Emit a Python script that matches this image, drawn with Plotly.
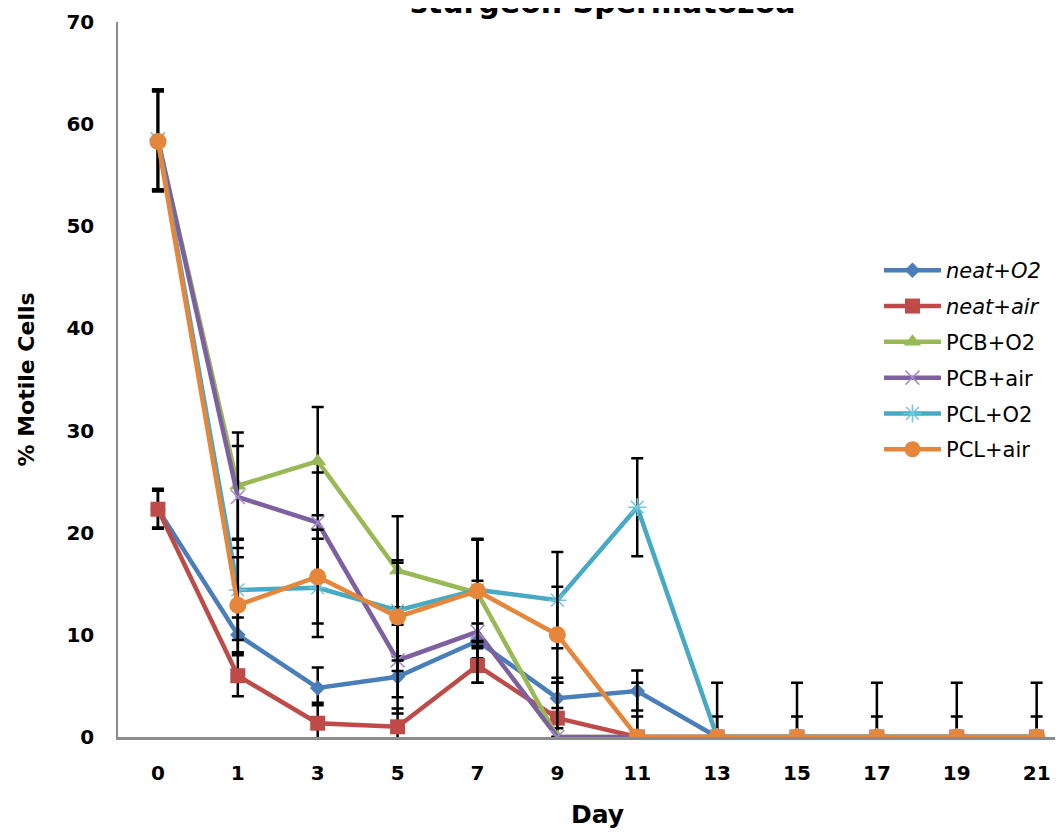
import plotly.graph_objects as go

days = ["0", "1", "3", "5", "7", "9", "11", "13", "15", "17", "19", "21"]

series_names = ["<i>neat+O2</i>", "<i>neat+air</i>", "PCB+O2", "PCB+air", "PCL+O2", "PCL+air"]

neat_o2 = [22.3, 10.0, 4.8, 5.9, 9.4, 3.8, 4.5, 0, 0, 0, 0, 0]
neat_o2_err_up = [1.8, 1.7, 2.0, 2.0, 1.7, 2.0, 2.0, 0, 0, 0, 0, 0]
neat_o2_err_dn = [1.8, 1.7, 1.7, 2.0, 1.7, 2.0, 1.9, 0, 0, 0, 0, 0]

neat_air = [22.3, 6.0, 1.35, 1.0, 7.0, 1.85, 0, 0, 0, 0, 0, 0]
neat_air_err_up = [2.0, 2.0, 2.0, 1.8, 1.7, 1.0, 2.0, 2.0, 2.0, 2.0, 2.0, 2.0]
neat_air_err_dn = [1.9, 2.0, 2.0, 1.8, 1.7, 1.0, 0, 0, 0, 0, 0, 0]

pcb_o2 = [58.4, 24.6, 27.0, 16.3, 14.1, 0, 0, 0, 0, 0, 0, 0]
pcb_o2_err_up = [4.9, 5.2, 5.3, 5.3, 5.2, 5.3, 5.3, 5.3, 5.3, 5.3, 5.3, 5.3]
pcb_o2_err_dn = [4.9, 5.2, 5.3, 5.3, 5.2, 0, 0, 0, 0, 0, 0, 0]

pcb_air = [58.5, 23.5, 21.0, 7.5, 10.3, 0, 0, 0, 0, 0, 0, 0]
pcb_air_err = [4.9, 5.0, 4.9, 5.2, 5.0, 0, 0, 0, 0, 0, 0, 0]

pcl_o2 = [58.5, 14.4, 14.6, 12.4, 14.4, 13.4, 22.5, 0, 0, 0, 0, 0]
pcl_o2_err = [4.9, 4.9, 4.8, 4.9, 5.0, 4.7, 4.8, 0, 0, 0, 0, 0]

pcl_air = [58.3, 12.9, 15.7, 11.75, 14.3, 10.0, 0, 0, 0, 0, 0, 0]
pcl_air_err = [4.9, 4.7, 4.6, 5.3, 5.0, 4.7, 0, 0, 0, 0, 0, 0]

colors = ["#4A7EBB", "#BE4B48", "#98B954", "#7D60A0", "#46AAC5", "#E5863B"]

FONT = "DejaVu Sans"

fig = go.Figure()


def err(up, dn=None):
    d = dict(type="data", array=up, color="black", thickness=2.5, width=6, visible=True)
    if dn is not None:
        d["symmetric"] = False
        d["arrayminus"] = dn
    return d


traces = [
    (neat_o2, err(neat_o2_err_up, neat_o2_err_dn), dict(symbol="diamond", size=12, color=colors[0])),
    (neat_air, err(neat_air_err_up, neat_air_err_dn), dict(symbol="square", size=15, color=colors[1])),
    (pcb_o2, err(pcb_o2_err_up, pcb_o2_err_dn), dict(symbol="triangle-up", size=15, color=colors[2])),
    (pcb_air, err(pcb_air_err), dict(symbol="x-thin-open", size=14, color="#A58BC7",
                                      line=dict(width=1.5, color="#A58BC7"))),
    (pcl_o2, err(pcl_o2_err), dict(symbol="asterisk-open", size=15, color="#6FC6DD",
                                    line=dict(width=1.5, color="#6FC6DD"))),
    (pcl_air, err(pcl_air_err), dict(symbol="circle", size=17, color=colors[5])),
]

for i, (vals, e, mk) in enumerate(traces):
    fig.add_trace(go.Scatter(
        x=days, y=vals, name=series_names[i], mode="lines+markers",
        line=dict(color=colors[i], width=4.5),
        marker=mk, error_y=e, legendgroup=f"g{i}",
    ))

fig.update_layout(
    width=1063, height=835,
    paper_bgcolor="white", plot_bgcolor="white",
    margin=dict(l=110, r=0, t=14, b=106, autoexpand=False),
    font=dict(family=FONT, color="black"),
    showlegend=True,
    legend=dict(x=0.7985, y=0.681, xanchor="left", yanchor="top",
                font=dict(family=FONT, size=21, color="black"),
                bgcolor="rgba(0,0,0,0)", itemwidth=57, tracegroupgap=5.5,
                traceorder="grouped"),
    xaxis=dict(type="category", range=[-0.5, 11.43], showline=True, linecolor="#8C8C8C",
               linewidth=2.5, showgrid=False, zeroline=False, ticks="", automargin=False,
               tickfont=dict(family=FONT, size=20, color="black", weight="bold"),
               ticklabelstandoff=16),
    yaxis=dict(range=[0, 70], dtick=10, showline=True, linecolor="#8C8C8C", linewidth=1.5,
               showgrid=False, zeroline=False, ticks="", automargin=False,
               tickfont=dict(family=FONT, size=20, color="black", weight="bold"),
               ticklabelstandoff=18,
               title=dict(text="% Motile Cells", font=dict(family=FONT, size=22, weight="bold"),
                          standoff=26)),
    annotations=[
        dict(text="Day", xref="x", yref="paper", x=5.5, y=-0.109, xanchor="center",
             yanchor="middle", showarrow=False,
             font=dict(family=FONT, size=25, weight="bold", color="black")),
        dict(text="sturgeon Spermatozoa", xref="paper", yref="paper", x=0.509, y=1.0,
             xanchor="center", yanchor="bottom", showarrow=False,
             font=dict(family=FONT, size=30, weight="bold", color="black")),
    ],
)

fig.write_html("out.html")
